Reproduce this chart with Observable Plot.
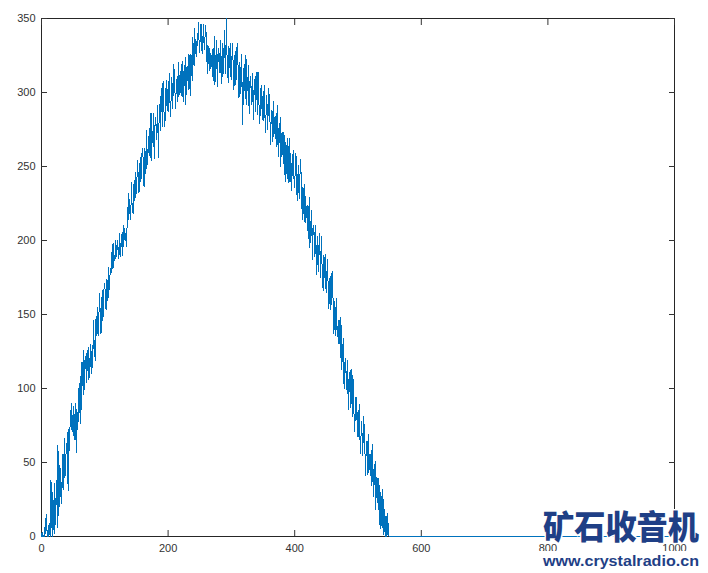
<!DOCTYPE html>
<html><head><meta charset="utf-8">
<script src="https://cdn.jsdelivr.net/npm/d3@7"></script>
<script src="https://cdn.jsdelivr.net/npm/@observablehq/plot@0.6"></script>
<style>
html,body{margin:0;padding:0;background:#fff;}
#wrap{position:relative;width:708px;height:573px;overflow:hidden;background:#fff;}
#wrap svg{display:block;}
#wm{position:absolute;left:0;top:0;pointer-events:none;}
</style></head><body>
<div id="wrap"></div>
<script>
// sample spacing of the series (x of value i = xStart + i * xStep)
const xStart = 0, xStep = 1;
const yValues = [
  0, 3, 0, 1, 0, 0, 12, 2, 15, 0,
  4, 0, 9, 2, 0, 38, 6, 30, 0, 24,
  2, 36, 8, 22, 38, 6, 62, 14, 48, 20,
  46, 35, 22, 48, 56, 32, 66, 40, 47, 59,
  60, 70, 31, 72, 58, 74, 78, 90, 72, 82,
  68, 88, 74, 65, 90, 57, 86, 72, 80, 100,
  84, 108, 76, 98, 118, 102, 126, 96, 112, 122,
  118, 104, 126, 112, 128, 106, 120, 115, 130, 110,
  129, 114, 146, 132, 124, 119, 147, 136, 155, 137,
  136, 154, 164, 142, 137, 156, 166, 146, 158, 170,
  171, 160, 153, 174, 172, 159, 182, 167, 175, 181,
  178, 192, 181, 198, 182, 190, 186, 200, 189, 196,
  200, 193, 188, 205, 190, 189, 204, 197, 190, 210,
  196, 208, 200, 205, 196, 207, 222, 214, 232, 218,
  223, 214, 239, 225, 219, 218, 238, 227, 246, 229,
  236, 244, 254, 238, 232, 246, 256, 240, 248, 262,
  261, 249, 236, 262, 259, 245, 274, 251, 259, 270,
  257, 276, 256, 286, 254, 274, 267, 286, 255, 276,
  283, 277, 268, 291, 274, 256, 292, 288, 274, 303,
  293, 277, 308, 292, 283, 277, 303, 291, 308, 289,
  287, 303, 313, 293, 284, 301, 310, 289, 300, 319,
  311, 299, 289, 309, 306, 294, 320, 297, 303, 314,
  300, 319, 297, 321, 294, 314, 305, 324, 292, 312,
  318, 312, 302, 326, 309, 298, 326, 322, 308, 337,
  327, 318, 343, 330, 326, 324, 340, 332, 347, 333,
  327, 343, 346, 331, 326, 337, 346, 329, 334, 345,
  340, 328, 313, 332, 326, 315, 330, 316, 318, 325,
  311, 330, 308, 338, 305, 325, 316, 335, 304, 323,
  330, 323, 313, 335, 318, 306, 333, 329, 313, 342,
  331, 313, 350, 326, 315, 307, 331, 317, 333, 312,
  309, 325, 333, 313, 302, 319, 328, 305, 316, 333,
  325, 311, 296, 320, 315, 299, 326, 301, 278, 316,
  301, 319, 296, 325, 292, 310, 301, 318, 286, 305,
  311, 303, 292, 313, 295, 282, 309, 303, 287, 314,
  303, 285, 314, 298, 287, 279, 303, 289, 305, 284,
  281, 296, 305, 284, 273, 290, 298, 275, 286, 303,
  294, 280, 265, 288, 283, 267, 294, 270, 275, 284,
  269, 286, 263, 291, 257, 276, 266, 283, 250, 268,
  273, 265, 252, 273, 254, 240, 266, 260, 242, 269,
  257, 239, 269, 252, 241, 234, 258, 244, 261, 240,
  236, 251, 259, 238, 227, 243, 251, 228, 238, 255,
  246, 231, 214, 236, 230, 213, 238, 212, 216, 223,
  207, 224, 201, 229, 195, 213, 203, 220, 187, 205,
  210, 202, 189, 210, 190, 177, 203, 196, 179, 205,
  193, 175, 203, 186, 174, 166, 190, 175, 191, 169,
  165, 179, 187, 165, 154, 169, 176, 153, 162, 179,
  169, 154, 137, 159, 153, 136, 161, 135, 139, 146,
  130, 146, 121, 148, 113, 130, 118, 134, 100, 116,
  120, 111, 99, 119, 99, 86, 111, 104, 87, 113,
  100, 81, 109, 91, 79, 71, 94, 79, 94, 72,
  67, 81, 89, 67, 56, 71, 78, 55, 64, 81,
  71, 57, 41, 64, 58, 42, 69, 43, 48, 56,
  41, 58, 34, 62, 27, 45, 35, 51, 18, 35,
  40, 31, 18, 39, 19, 5, 30, 23, 6, 32,
  19, 1, 18, 12, 0, 0, 16, 1, 9, 0,
  0
];
const tailX = [551, 1000];
const tailY = [0, 0];
const xTicks = [0, 200, 400, 600, 800, 1000];
const yTicks = [0, 50, 100, 150, 200, 250, 300, 350];
const wmTitle = "矿石收音机";
const wmUrl = "www.crystalradio.cn";

const data = yValues.map((y, i) => ({x: xStart + i * xStep, y}))
  .concat(tailX.map((x, i) => ({x, y: tailY[i]})));

const chart = Plot.plot({
  width: 708, height: 573,
  marginLeft: 41, marginRight: 34, marginTop: 18, marginBottom: 37,
  style: {fontFamily: "'Liberation Sans', Arial, sans-serif", fontSize: "11px", color: "#333", background: "#fff"},
  x: {domain: [0, 1000]},
  y: {domain: [0, 350]},
  marks: [
    Plot.frame({stroke: "#262626", strokeWidth: 1}),
    Plot.axisX({ticks: xTicks, tickSize: -6, tickPadding: 14, label: null, tickFormat: d => String(d)}),
    Plot.axisX({anchor: "top", ticks: xTicks, tickSize: -6, tickFormat: () => "", label: null}),
    Plot.axisY({ticks: yTicks, tickSize: -6, tickPadding: 12, label: null, tickFormat: d => String(d)}),
    Plot.axisY({anchor: "right", ticks: yTicks, tickSize: -6, tickFormat: () => "", label: null}),
    Plot.line(data, {x: "x", y: "y", stroke: "#0072BD", strokeWidth: 1, shapeRendering: "crispEdges"})
  ]
});
const wrap = document.getElementById("wrap");
wrap.appendChild(chart);

// watermark overlay
const wm = d3.select(wrap).append("svg").attr("id", "wm").attr("width", 708).attr("height", 573);
wm.append("rect").attr("x", 535).attr("y", 551).attr("width", 173).attr("height", 22).attr("fill", "#fff");
wm.append("text").text(wmTitle)
  .attr("x", 543).attr("y", 539)
  .attr("textLength", 156).attr("lengthAdjust", "spacingAndGlyphs")
  .attr("font-family", "'Noto Sans CJK SC', sans-serif").attr("font-weight", 900).attr("font-size", 33)
  .attr("fill", "#1f3f86").attr("stroke", "#fff").attr("stroke-width", 3).attr("paint-order", "stroke");
wm.append("text").text(wmUrl)
  .attr("x", 543).attr("y", 566)
  .attr("textLength", 156).attr("lengthAdjust", "spacingAndGlyphs")
  .attr("font-family", "'Liberation Sans', Arial, sans-serif").attr("font-weight", 700).attr("font-size", 15)
  .attr("fill", "#1f3f86");
</script>
</body></html>
